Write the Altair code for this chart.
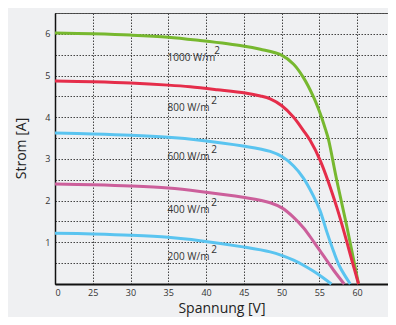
import altair as alt
import pandas as pd

# --- data ---
series_names = ["1000", "800", "600", "400", "200"]
series_colors = ["#77b82f", "#e52d4a", "#5ac4f0", "#cc5f9b", "#5ac4f0"]

v_1000 = [20, 25, 30, 35, 39.2, 44.9, 47.2, 50.0, 51.6, 52.9, 54.2, 55.1, 55.8, 56.2, 57.3, 58.6, 60.2]
i_1000 = [6.02, 6.0, 5.97, 5.92, 5.84, 5.71, 5.63, 5.49, 5.27, 4.95, 4.50, 4.10, 3.72, 3.48, 2.50, 1.42, 0.0]

v_800 = [20, 25, 30, 35, 37.9, 41.5, 45.2, 47.2, 48.5, 50.0, 51.6, 52.9, 53.8, 55.1, 57.3, 59.5, 60.2]
i_800 = [4.87, 4.85, 4.82, 4.77, 4.73, 4.66, 4.58, 4.51, 4.44, 4.28, 4.00, 3.68, 3.44, 2.97, 1.85, 0.45, 0.0]

v_600 = [20, 25, 30, 35, 39.2, 44.9, 48.5, 50.1, 51.6, 52.9, 54.2, 55.1, 56.0, 56.9, 57.7, 59.1]
i_600 = [3.62, 3.6, 3.57, 3.52, 3.45, 3.31, 3.18, 3.05, 2.83, 2.54, 2.12, 1.76, 1.25, 0.78, 0.42, 0.0]

v_400 = [20, 25, 30, 35, 39.2, 44.9, 48.5, 50.1, 51.6, 52.9, 54.2, 55.5, 56.9, 58.3]
i_400 = [2.40, 2.38, 2.35, 2.30, 2.22, 2.08, 1.95, 1.82, 1.60, 1.35, 1.03, 0.69, 0.33, 0.0]

v_200 = [20, 25, 30, 35, 39.2, 44.9, 48.5, 50.1, 51.6, 52.9, 54.2, 55.5, 56.6]
i_200 = [1.22, 1.2, 1.17, 1.12, 1.04, 0.89, 0.77, 0.68, 0.57, 0.45, 0.31, 0.15, 0.0]

label_texts = ["1000 W/m", "800 W/m", "600 W/m", "400 W/m", "200 W/m"]
label_v = [34.9, 34.9, 34.9, 34.9, 34.9]
label_i = [5.42, 4.22, 3.05, 1.77, 0.65]

x_ticks = list(range(20, 70, 5))
y_ticks = [k / 2 for k in range(0, 14)]

rows = []
for name, vs, cs in zip(series_names,
                        [v_1000, v_800, v_600, v_400, v_200],
                        [i_1000, i_800, i_600, i_400, i_200]):
    for k, (v, c) in enumerate(zip(vs, cs)):
        rows.append({"series": name, "V": v, "I": c, "order": k})
df = pd.DataFrame(rows)
labels = pd.DataFrame({"text": label_texts, "V": label_v, "I": label_i})

FONT = "Open Sans"

x_scale = alt.Scale(domain=[20, 64.1], nice=False, zero=False)
y_scale = alt.Scale(domain=[0, 6.5], nice=False)

x_axis = alt.Axis(values=x_ticks,
                  labelExpr="datum.value == 20 ? '0' : format(datum.value, 'd')",
                  grid=True, gridDash=[1.5, 1.5], gridColor="#444",
                  gridWidth=1, ticks=False,
                  domainColor="#111", domainWidth=2,
                  labelFontSize=9, labelColor="#333", labelFont=FONT,
                  labelPadding=4, labelOverlap=False,
                  title="Spannung [V]", titleFontSize=14,
                  titleFontWeight="normal", titleFont=FONT,
                  titleColor="#222", titleBaseline="bottom", titleY=31)
y_axis = alt.Axis(values=y_ticks,
                  labelExpr="datum.value > 0 && datum.value % 1 == 0 ? format(datum.value, 'd') : ''",
                  grid=True, gridDash=[1.5, 1.5], gridColor="#444",
                  gridWidth=1, ticks=False,
                  domainColor="#111", domainWidth=1.5,
                  labelFontSize=9, labelColor="#333", labelFont=FONT,
                  labelPadding=5, labelOverlap=False,
                  title="Strom [A]", titleFontSize=14,
                  titleFontWeight="normal", titleFont=FONT,
                  titleColor="#222", titleX=-27, titleY=135)

lines = alt.Chart(df).mark_line(strokeWidth=3, interpolate="catmull-rom").encode(
    x=alt.X("V:Q", scale=x_scale, axis=x_axis),
    y=alt.Y("I:Q", scale=y_scale, axis=y_axis),
    color=alt.Color("series:N", scale=alt.Scale(domain=series_names, range=series_colors), legend=None),
    detail="series:N",
    order="order:Q",
)

text_main = alt.Chart(labels).mark_text(align="left", baseline="middle", fontSize=10,
                                        font=FONT, color="#333").encode(
    x=alt.X("V:Q", scale=x_scale, axis=x_axis),
    y=alt.Y("I:Q", scale=y_scale, axis=y_axis),
    text="text:N")

text_sup = alt.Chart(labels).transform_calculate(
    Vs="datum.V + 5.8 + (length(datum.text) - 7) * 0.4", sup="'2'"
).mark_text(align="left", baseline="middle", fontSize=10, font=FONT,
            color="#333", dy=-7).encode(
    x=alt.X("Vs:Q", scale=x_scale, axis=x_axis),
    y=alt.Y("I:Q", scale=y_scale, axis=y_axis),
    text="sup:N")

chart = alt.layer(lines, text_main, text_sup).properties(
    width=333, height=271,
    autosize=alt.AutoSizeParams(type="none"),
    padding={"left": 47, "top": 5, "right": 0, "bottom": 33},
    background="#eff0f2",
).configure_view(stroke="#555", strokeWidth=1, fill="#eff0f2")

chart.save("out.html", embed_options={"renderer": "svg", "actions": False})
